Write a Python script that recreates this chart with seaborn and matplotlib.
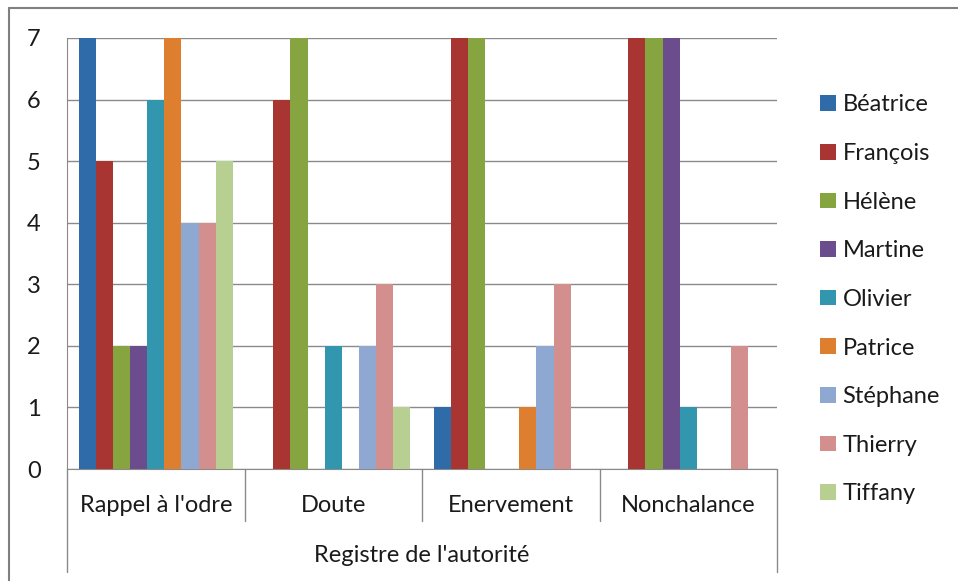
import matplotlib
matplotlib.use("Agg")
import matplotlib.pyplot as plt
import pandas as pd
import seaborn as sns
from matplotlib.lines import Line2D
from matplotlib.patches import Patch

categories = ["Rappel à l'odre", "Doute", "Enervement", "Nonchalance"]
people = ["Béatrice", "François", "Hélène", "Martine", "Olivier",
          "Patrice", "Stéphane", "Thierry", "Tiffany"]

beatrice = [7, 0, 1, 0]
francois = [5, 6, 7, 7]
helene = [2, 7, 7, 7]
martine = [2, 0, 0, 7]
olivier = [6, 2, 0, 1]
patrice = [7, 0, 1, 0]
stephane = [4, 2, 2, 0]
thierry = [4, 3, 3, 2]
tiffany = [5, 1, 0, 0]

colors = ["#2E6BA8", "#A83532", "#86A43F", "#6B4C8D", "#3196AE",
          "#DD7F2E", "#8FA8D1", "#D38E8E", "#B7CF91"]

series = [beatrice, francois, helene, martine, olivier,
          patrice, stephane, thierry, tiffany]
rows = []
for name, vals in zip(people, series):
    for cat, v in zip(categories, vals):
        rows.append({"registre": cat, "personne": name, "n": v})
df = pd.DataFrame(rows)

sns.set_style("white")
plt.rcParams["font.family"] = ["Lato", "DejaVu Sans"]
plt.rcParams["text.color"] = "#1a1a1a"
fs = 17

fig = plt.figure(figsize=(9.58, 5.81), dpi=100)
ax = fig.add_axes([67 / 958, 1 - 469 / 581, 710 / 958, 431 / 581])

sns.barplot(data=df, x="registre", y="n", hue="personne", order=categories,
            hue_order=people, palette=colors, width=0.87, saturation=1,
            ax=ax, legend=False, zorder=3, linewidth=0, edgecolor="none")

grid_c = "#8a8a8a"
ax.set_xlim(-0.5, 3.5)
ax.set_ylim(0, 7)
ax.set_yticks(range(0, 8))
ax.yaxis.grid(True, color=grid_c, linewidth=1.0, zorder=0)
ax.set_axisbelow(True)
for side in ["top", "right"]:
    ax.spines[side].set_visible(False)
ax.spines["left"].set_color(grid_c)
ax.spines["bottom"].set_color(grid_c)
ax.tick_params(axis="y", length=8, width=1, color=grid_c, labelsize=fs,
               pad=11, labelcolor="#1a1a1a")
ax.set_xticks([])
ax.set_xlabel("")
ax.set_ylabel("")

# category labels and separators below the axis
tr = ax.get_xaxis_transform()
px = 1 / 431
for i, cat in enumerate(categories):
    ax.text(i, -36 * px, cat, transform=tr, ha="center", va="center",
            fontsize=fs, color="#1a1a1a")
for x in [0.5, 1.5, 2.5]:
    ax.add_line(Line2D([x, x], [0, -52 * px], transform=tr, color=grid_c,
                       linewidth=1, clip_on=False))
for x in [-0.5, 3.5]:
    ax.add_line(Line2D([x, x], [0, -103 * px], transform=tr, color=grid_c,
                       linewidth=1, clip_on=False))
ax.text(1.5, -86 * px, "Registre de l'autorité", transform=tr, ha="center",
        va="center", fontsize=fs, color="#1a1a1a")

handles = [Patch(facecolor=c, edgecolor="none") for c in colors]
fig.legend(handles, people, loc="upper left",
           bbox_to_anchor=(811 / 958, 1 - 85 / 581), frameon=False,
           fontsize=fs, handlelength=0.64, handleheight=0.64,
           handletextpad=0.3, labelspacing=1.17, borderaxespad=0)

# outer frame of the chart
fig.add_artist(Line2D([9 / 958, 1], [1 - 8 / 581, 1 - 8 / 581],
                      transform=fig.transFigure, color="#808080", linewidth=1.5))
fig.add_artist(Line2D([9 / 958, 9 / 958], [0, 1 - 8 / 581],
                      transform=fig.transFigure, color="#808080", linewidth=1.5))

fig.savefig("out.png", dpi=100)
